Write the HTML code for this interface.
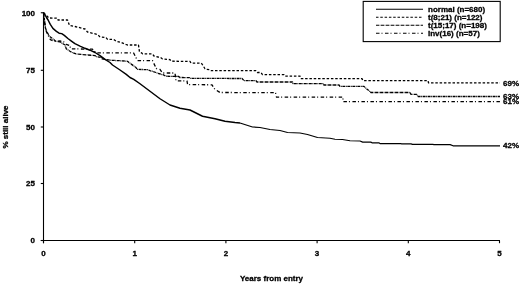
<!DOCTYPE html>
<html><head><meta charset="utf-8"><style>
html,body{margin:0;padding:0;background:#fff;width:520px;height:284px;overflow:hidden}
svg{display:block;will-change:transform}
text{font-family:"Liberation Sans",sans-serif;font-weight:bold;font-size:8px;fill:#000;stroke:#000;stroke-width:0.3px}
.ax{stroke:#000;stroke-width:1.1;fill:none}
.c{stroke:#000;stroke-width:1.3;fill:none;stroke-linejoin:round}
.box{stroke:#000;stroke-width:1.1;fill:none}
</style></head><body>
<svg width="520" height="284" viewBox="0 0 520 284">
<line x1="43.5" y1="12.2" x2="43.5" y2="243.2" class="ax"/>
<line x1="40.8" y1="240.5" x2="500" y2="240.5" class="ax"/>
<line x1="40.8" y1="12.75" x2="43.5" y2="12.75" class="ax"/>
<text x="35" y="15.65" text-anchor="end">100</text>
<line x1="40.8" y1="70.3" x2="43.5" y2="70.3" class="ax"/>
<text x="35" y="73.2" text-anchor="end">75</text>
<line x1="40.8" y1="127" x2="43.5" y2="127" class="ax"/>
<text x="35" y="129.9" text-anchor="end">50</text>
<line x1="40.8" y1="183.5" x2="43.5" y2="183.5" class="ax"/>
<text x="35" y="186.4" text-anchor="end">25</text>
<line x1="40.8" y1="240.5" x2="43.5" y2="240.5" class="ax"/>
<text x="35" y="243.4" text-anchor="end">0</text>
<line x1="43.50" y1="240.5" x2="43.50" y2="243.2" class="ax"/>
<text x="43.50" y="256.3" text-anchor="middle">0</text>
<line x1="134.70" y1="240.5" x2="134.70" y2="243.2" class="ax"/>
<text x="134.70" y="256.3" text-anchor="middle">1</text>
<line x1="225.90" y1="240.5" x2="225.90" y2="243.2" class="ax"/>
<text x="225.90" y="256.3" text-anchor="middle">2</text>
<line x1="317.10" y1="240.5" x2="317.10" y2="243.2" class="ax"/>
<text x="317.10" y="256.3" text-anchor="middle">3</text>
<line x1="408.30" y1="240.5" x2="408.30" y2="243.2" class="ax"/>
<text x="408.30" y="256.3" text-anchor="middle">4</text>
<line x1="499.50" y1="240.5" x2="499.50" y2="243.2" class="ax"/>
<text x="499.50" y="256.3" text-anchor="middle">5</text>
<text x="271.5" y="281.3" text-anchor="middle">Years from entry</text>
<text transform="translate(8.4,127) rotate(-90)" text-anchor="middle">% still alive</text>
<polyline points="43.50,12.75 44.30,13.60 46.50,17.50 48.10,20.00 50.30,24.40 52.90,28.40 56.40,31.40 59.10,33.20 61.70,33.60 64.30,35.40 67.90,38.50 71.40,41.10 74.90,43.70 80.00,46.20 85.00,48.30 90.00,50.20 95.00,52.50 100.00,55.60 105.00,59.40 110.00,62.50 112.50,65.00 120.00,70.00 126.25,74.40 130.00,77.50 133.75,79.40 140.00,83.75 150.00,91.25 160.00,98.75 170.00,105.00 180.00,108.25 190.00,110.00 195.00,112.50 202.50,116.25 215.00,118.75 225.00,121.25 235.00,122.50 240.00,123.00" class="c" style="stroke-width:1.45"/>
<polyline points="240.00,123.00 252.50,127.00 260.00,127.50 270.00,129.50 280.00,130.50 287.50,132.50 300.00,133.00 307.50,134.50 317.50,137.50 330.00,138.25 335.00,139.25 342.50,139.50 350.00,140.75 360.00,141.00 362.70,142.10 370.80,142.10 372.00,142.80 378.80,142.80 380.00,143.50 400.40,143.50 401.70,143.90 411.00,143.90 412.50,144.40 432.70,144.40 434.00,144.60 450.20,144.60 453.00,145.75 500.00,145.75" class="c" style="stroke-width:1.25"/>
<polyline points="43.50,12.75 49.00,18.00 57.50,18.20 58.00,20.00 67.50,20.00 69.50,25.50 75.00,26.50 85.00,29.00 87.50,32.00 97.50,34.50 100.00,36.90 106.00,37.50 107.50,39.40 113.75,39.40 116.25,41.25 121.25,42.50 125.00,44.20 127.50,45.00 138.50,45.00 139.50,52.00 141.50,52.80 142.50,53.75 152.50,53.90 154.00,56.00 161.00,57.80 162.50,58.90 170.00,59.60 171.00,61.20 190.00,61.40 191.00,63.10 201.00,63.10 202.00,64.00 205.00,68.75 206.00,69.40 210.00,69.70 211.00,70.60 256.00,70.60 257.50,72.50 261.00,72.50 262.50,74.60 284.00,74.60 285.00,76.10 300.00,76.10 301.00,78.60 362.00,78.60 363.00,80.60 428.00,80.60 428.50,82.90 500.00,82.90" class="c" stroke-dasharray="2.5 1.8"/>
<polyline points="43.50,12.75 44.50,20.00 45.50,28.00 46.50,31.00 48.30,34.30 49.40,36.40 52.60,38.60 55.70,41.20 60.00,41.90 65.00,45.00 66.25,48.75 70.00,51.25 72.00,52.50 76.25,54.00 95.00,55.60 96.25,56.50 101.25,57.50 102.00,58.75 110.00,60.20 125.00,61.00 127.50,61.30 129.00,62.50 136.00,67.50 137.00,69.40 147.50,69.60 150.00,70.60 156.00,72.50 158.50,73.50 163.80,75.00 165.60,76.20 178.80,76.50 179.70,77.50 190.00,77.60 191.00,78.40 242.00,78.50 244.00,80.60 256.00,80.60 257.00,82.00 292.50,82.00 293.00,83.60 323.00,83.60 324.00,85.00 339.00,85.00 340.00,86.40 364.00,86.40 365.00,87.50 370.00,91.50 371.00,92.50 410.00,92.50 411.00,94.40 417.00,94.40 418.00,96.50 500.00,96.50" class="c" stroke-dasharray="3 0.6 0.8 0.6"/>
<polyline points="43.50,12.75 44.30,20.00 45.30,28.00 46.50,32.00 48.50,36.00 50.40,39.60 53.60,41.20 60.00,41.00 63.75,41.90 66.25,44.40 70.00,45.60 70.50,48.80 92.50,49.20 96.00,52.80 133.50,52.80 137.50,60.60 152.50,60.60 156.25,68.50 160.00,69.40 161.00,71.00 163.00,73.00 175.00,73.00 176.00,80.90 187.00,80.90 187.60,84.60 212.00,84.80 213.50,87.50 215.00,89.40 220.00,92.50 275.50,92.60 276.50,97.10 342.80,97.10 343.20,101.70 500.00,101.70" class="c" stroke-dasharray="3.5 2 1 2.5"/>
<text x="503" y="86">69%</text>
<text x="503" y="98.8">63%</text>
<text x="503" y="103.9">61%</text>
<text x="503" y="148.2">42%</text>
<rect x="363.2" y="1.4" width="137" height="40.2" class="box"/>
<line x1="376" y1="9.2" x2="423" y2="9.2" class="c" style="stroke-width:1.1" />
<text x="428" y="12.2">normal (n=680)</text>
<line x1="376" y1="17.2" x2="423" y2="17.2" class="c" style="stroke-width:1.1" stroke-dasharray="2.5 1.8"/>
<text x="428" y="20.2">t(8;21) (n=122)</text>
<line x1="376" y1="25.2" x2="423" y2="25.2" class="c" style="stroke-width:1.1" stroke-dasharray="3 0.6 0.8 0.6"/>
<text x="428" y="28.2">t(15;17) (n=198)</text>
<line x1="376" y1="33.2" x2="423" y2="33.2" class="c" style="stroke-width:1.1" stroke-dasharray="3.5 2 1 2.5"/>
<text x="428" y="36.2">inv(16) (n=57)</text>
</svg>
</body></html>
